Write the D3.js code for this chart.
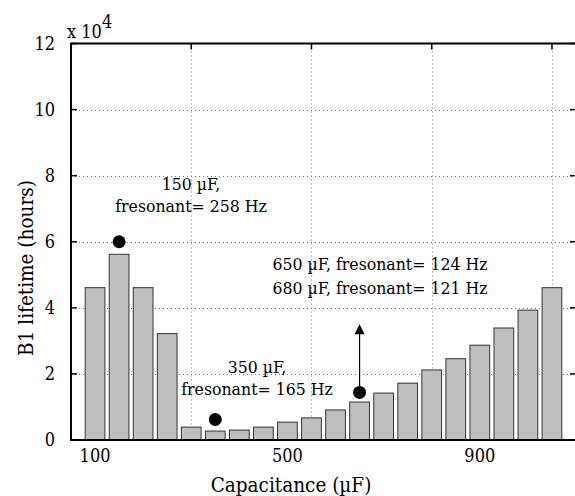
<!DOCTYPE html>
<html>
<head>
<meta charset="utf-8">
<script src="https://cdn.jsdelivr.net/npm/d3@7"></script>
<style>
html,body{margin:0;padding:0;background:#fff;}
svg{display:block;}
</style>
</head>
<body>
<svg id="chart" width="575" height="496"></svg>
<script>
// ---- data ----
const capacitance = [100,150,200,250,300,350,400,450,500,550,600,650,700,750,800,850,900,950,1000,1050];
const lifetime = [4.61,5.62,4.61,3.22,0.39,0.27,0.30,0.39,0.54,0.67,0.91,1.15,1.42,1.72,2.12,2.46,2.87,3.39,3.93,4.61]; // x 10^4 hours
const xTickValues = [100,500,900];
const xTickLabels = ["100","500","900"];
const xGridValues = [300,550,800,1050];
const yTicks = [0,2,4,6,8,10,12];
const markerCaps = [150,350,650];
const markerValues = [6.0,0.62,1.44];
const arrowCap = 650, arrowFrom = 1.44, arrowTo = 3.5;
const annotationLines = [
  ["150 \u00b5F,","fresonant= 258 Hz"],
  ["350 \u00b5F,","fresonant= 165 Hz"],
  ["650 \u00b5F, fresonant= 124 Hz","680 \u00b5F, fresonant= 121 Hz"]
];

// ---- layout ----
const FONT = "'DejaVu Serif Condensed', 'DejaVu Serif', serif";
const svg = d3.select("#chart");
const pL = 71, pR = 576, pT = 43.5, pB = 440;
const x = d3.scaleLinear().domain([50,1100]).range([pL,pR]);
const y = d3.scaleLinear().domain([0,12]).range([pB,pT]);
const step = x(150)-x(100);
const bw = step*0.82;

// grid
const grid = svg.append("g").attr("stroke","#777").attr("stroke-width",1).attr("stroke-dasharray","1,3");
grid.selectAll("line.h").data(yTicks.filter(d=>d>0&&d<12)).enter().append("line")
  .attr("x1",pL).attr("x2",pR).attr("y1",d=>Math.round(y(d))+0.5).attr("y2",d=>Math.round(y(d))+0.5);
grid.selectAll("line.v").data(xGridValues).enter().append("line")
  .attr("x1",d=>Math.round(x(d))+0.5).attr("x2",d=>Math.round(x(d))+0.5).attr("y1",pT).attr("y2",pB);

// bars
svg.append("g").selectAll("rect").data(capacitance).enter().append("rect")
  .attr("x",(d)=>x(d)-bw/2).attr("width",bw)
  .attr("y",(d,i)=>y(lifetime[i])).attr("height",(d,i)=>y(0)-y(lifetime[i]))
  .attr("fill","#bfbfbf").attr("stroke","#333").attr("stroke-width",1);

// axes box
const ax = svg.append("g").attr("stroke","#000").attr("stroke-width",2).attr("fill","none");
ax.append("line").attr("x1",pL).attr("x2",pL).attr("y1",pT).attr("y2",pB);
ax.append("line").attr("x1",pL-1).attr("x2",pR).attr("y1",pB).attr("y2",pB);
ax.append("line").attr("x1",pL-1).attr("x2",pR).attr("y1",pT).attr("y2",pT);
ax.append("line").attr("x1",pR).attr("x2",pR).attr("y1",pT).attr("y2",pB);
// ticks
const tk = svg.append("g").attr("stroke","#000").attr("stroke-width",1.5);
yTicks.forEach(d=>{
  tk.append("line").attr("x1",pL).attr("x2",pL+6).attr("y1",y(d)).attr("y2",y(d));
  tk.append("line").attr("x1",pR-6).attr("x2",pR).attr("y1",y(d)).attr("y2",y(d));
});
xGridValues.forEach(d=>{
  tk.append("line").attr("x1",x(d)).attr("x2",x(d)).attr("y1",pT).attr("y2",pT+6);
});

// tick labels
svg.append("g").selectAll("text").data(yTicks).enter().append("text")
  .attr("font-family",FONT)
  .attr("x",55).attr("y",d=>y(d)).attr("dy","0.36em").attr("text-anchor","end")
  .attr("font-size",18).text(d=>d);
svg.append("g").selectAll("text").data(xTickValues).enter().append("text")
  .attr("font-family",FONT)
  .attr("x",d=>x(d)).attr("y",462).attr("text-anchor","middle")
  .attr("font-size",18).text((d,i)=>xTickLabels[i]);

// exponent
const ex = svg.append("text").attr("font-family",FONT).attr("x",67).attr("y",37.5).attr("font-size",18);
ex.append("tspan").text("x 10");
ex.append("tspan").attr("dy",-9.5).text("4");

// axis labels
svg.append("text").attr("font-family",FONT).attr("x",291).attr("y",492).attr("text-anchor","middle").attr("font-size",20.5)
  .text("Capacitance (\u00b5F)");
svg.append("text").attr("font-family",FONT).attr("transform","translate(33,268) rotate(-90)").attr("text-anchor","middle").attr("font-size",20.5)
  .text("B1 lifetime (hours)");

// markers
svg.append("g").selectAll("circle").data(markerCaps).enter().append("circle")
  .attr("cx",d=>x(d)).attr("cy",(d,i)=>y(markerValues[i])).attr("r",6.5).attr("fill","#000");

// arrow
const ax0 = x(arrowCap);
svg.append("line").attr("x1",ax0).attr("x2",ax0).attr("y1",y(arrowFrom)).attr("y2",y(arrowTo)+9)
  .attr("stroke","#000").attr("stroke-width",1.2);
svg.append("path").attr("d",`M${ax0},${y(arrowTo)} L${ax0-5},${y(arrowTo)+10} L${ax0+5},${y(arrowTo)+10} Z`).attr("fill","#000");

// annotations
const annX = [191, 257, 380];
const annB = [190, 373, 270];
annotationLines.forEach((lines,i)=>{
  const t = svg.append("text").attr("font-family",FONT).attr("text-anchor","middle").attr("font-size",17.5);
  lines.forEach((l,j)=>{
    t.append("tspan").attr("x",annX[i]).attr("y",annB[i]+j*(i===2?24:22)).text(l);
  });
});
</script>
</body>
</html>
